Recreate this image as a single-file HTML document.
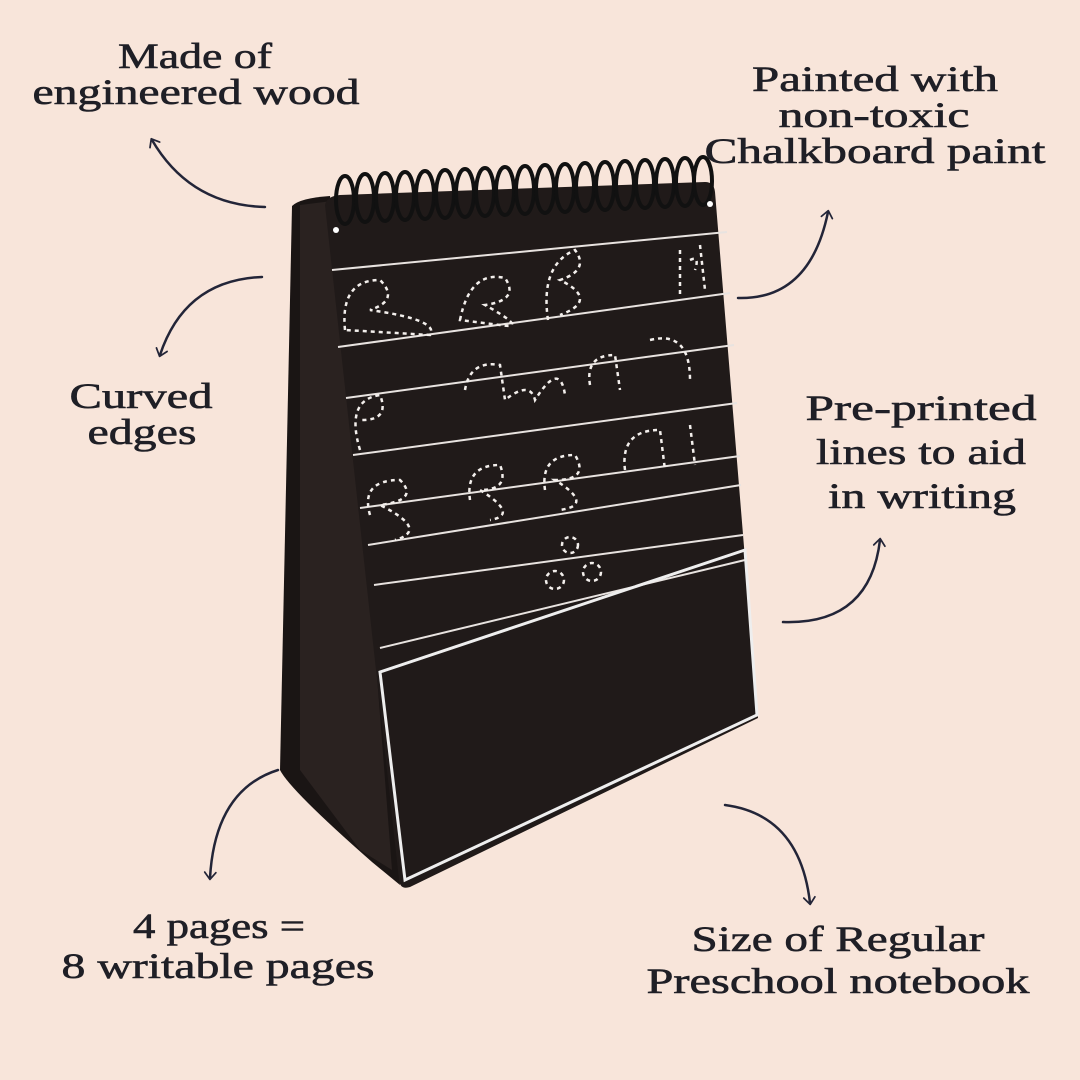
<!DOCTYPE html>
<html><head><meta charset="utf-8"><style>
html,body{margin:0;padding:0;background:#f8e5da;}
svg{display:block}
text{font-family:"Liberation Serif",serif;fill:#1f1f26;text-anchor:middle;}
</style></head><body>
<svg width="1080" height="1080" viewBox="0 0 1080 1080" xmlns="http://www.w3.org/2000/svg">
<defs>
<marker id="ah" viewBox="0 0 20 20" refX="10" refY="10" markerWidth="14" markerHeight="14" orient="auto-start-reverse" markerUnits="userSpaceOnUse">
<path d="M2,2 L12,10 L2,18" fill="none" stroke="#232538" stroke-width="2.5" stroke-linecap="round" stroke-linejoin="round"/>
</marker>
</defs>
<rect width="1080" height="1080" fill="#f8e5da"/>

<path d="M292,206 Q300,198 330,196 L400,885 L372,862 Q290,790 280,770 Z" fill="#1a1514"/>
<path d="M300,205 L340,200 L392,870 L360,850 L300,770 Z" fill="#2a2220"/>
<path d="M325,205 Q327,196 340,195 L705,182 Q714,182 715,192 L758,718 L410,887 Q400,890 399,880 Z" fill="#201a19"/>

<g fill="none" stroke="#111" stroke-width="4">
<ellipse cx="345" cy="200" rx="9" ry="24"/><ellipse cx="365" cy="198" rx="9" ry="24"/>
<ellipse cx="385" cy="197" rx="9" ry="24"/><ellipse cx="405" cy="196" rx="9" ry="24"/>
<ellipse cx="425" cy="195" rx="9" ry="24"/><ellipse cx="445" cy="194" rx="9" ry="24"/>
<ellipse cx="465" cy="193" rx="9" ry="24"/><ellipse cx="485" cy="192" rx="9" ry="24"/>
<ellipse cx="505" cy="191" rx="9" ry="24"/><ellipse cx="525" cy="190" rx="9" ry="24"/>
<ellipse cx="545" cy="189" rx="9" ry="24"/><ellipse cx="565" cy="188" rx="9" ry="24"/>
<ellipse cx="585" cy="187" rx="9" ry="24"/><ellipse cx="605" cy="186" rx="9" ry="24"/>
<ellipse cx="625" cy="185" rx="9" ry="24"/><ellipse cx="645" cy="184" rx="9" ry="24"/>
<ellipse cx="665" cy="183" rx="9" ry="24"/><ellipse cx="685" cy="182" rx="9" ry="24"/>
<ellipse cx="703" cy="181" rx="9" ry="24"/>
</g>
<g fill="#fff">
<circle cx="336" cy="230" r="3"/><circle cx="710" cy="204" r="3"/>
</g>

<g stroke="#e8e3e0" stroke-width="2">
<line x1="332" y1="270" x2="727" y2="232"/>
<line x1="338" y1="347" x2="730" y2="293"/>
<line x1="346" y1="398" x2="734" y2="345"/>
<line x1="353" y1="455" x2="737" y2="403"/>
<line x1="360" y1="508" x2="740" y2="456"/>
<line x1="368" y1="545" x2="741" y2="485"/>
<line x1="374" y1="585" x2="743" y2="535"/>
<line x1="380" y1="648" x2="745" y2="560"/>
</g>
<path d="M380,672 L745,550 L757,715 L405,880 Z" fill="none" stroke="#eee" stroke-width="3"/>

<g fill="none" stroke="#f3efec" stroke-width="2.5" stroke-dasharray="4 4">
<path d="M345,330 Q340,280 380,280 Q400,300 370,310 Q440,320 430,335 Z"/>
<path d="M460,320 Q470,270 505,278 Q520,300 485,305 Q530,330 500,325 Z"/>
<path d="M548,320 Q540,265 575,250 Q590,270 560,280 Q600,300 560,315"/>
<path d="M680,250 L680,295 M700,245 L705,290 M690,260 Q700,255 695,270"/>
<path d="M360,450 Q345,400 380,395 Q390,420 362,420"/>
<path d="M465,390 Q470,360 500,365 L505,400 Q530,380 535,400 Q560,360 565,395"/>
<path d="M590,385 Q585,355 615,355 L620,390 M650,340 Q690,330 690,380"/>
<path d="M370,515 Q360,480 400,480 Q420,500 380,505 Q430,530 395,540"/>
<path d="M470,500 Q465,465 500,465 Q510,490 480,490 Q520,515 490,520"/>
<path d="M545,490 Q540,455 575,455 Q590,480 555,480 Q595,505 560,510"/>
<path d="M625,470 Q620,430 660,430 L665,470 M690,425 L695,465"/>
<circle cx="570" cy="545" r="8"/><circle cx="555" cy="580" r="9"/><circle cx="592" cy="572" r="9"/>
</g>

<g fill="none" stroke="#232538" stroke-width="2.5" stroke-linecap="round">
<path d="M265,207 Q190,205 152,140" marker-end="url(#ah)"/>
<path d="M262,277 Q185,280 160,355" marker-end="url(#ah)"/>
<path d="M738,298 Q810,300 828,212" marker-end="url(#ah)"/>
<path d="M783,622 Q870,625 880,540" marker-end="url(#ah)"/>
<path d="M278,770 Q215,790 210,878" marker-end="url(#ah)"/>
<path d="M725,805 Q800,815 810,903" marker-end="url(#ah)"/>
</g>

<g font-size="36" lengthAdjust="spacingAndGlyphs" stroke="#1f1f26" stroke-width="0.6">
<text x="195" y="68" textLength="154" lengthAdjust="spacingAndGlyphs">Made of</text>
<text x="196" y="104" textLength="327" lengthAdjust="spacingAndGlyphs">engineered wood</text>
<text x="875" y="91" textLength="246" lengthAdjust="spacingAndGlyphs">Painted with</text>
<text x="874" y="127" textLength="191" lengthAdjust="spacingAndGlyphs">non-toxic</text>
<text x="875" y="163" textLength="341" lengthAdjust="spacingAndGlyphs">Chalkboard paint</text>
<text x="141" y="408" textLength="143" lengthAdjust="spacingAndGlyphs">Curved</text>
<text x="142" y="444" textLength="109" lengthAdjust="spacingAndGlyphs">edges</text>
<text x="921" y="420" textLength="231" lengthAdjust="spacingAndGlyphs">Pre-printed</text>
<text x="921" y="464" textLength="210" lengthAdjust="spacingAndGlyphs">lines to aid</text>
<text x="922" y="508" textLength="188" lengthAdjust="spacingAndGlyphs">in writing</text>
<text x="219" y="938" textLength="172" lengthAdjust="spacingAndGlyphs">4 pages =</text>
<text x="218" y="978" textLength="313" lengthAdjust="spacingAndGlyphs">8 writable pages</text>
<text x="838" y="951" textLength="293" lengthAdjust="spacingAndGlyphs">Size of Regular</text>
<text x="838" y="993" textLength="383" lengthAdjust="spacingAndGlyphs">Preschool notebook</text>
</g>
</svg>
</body></html>
